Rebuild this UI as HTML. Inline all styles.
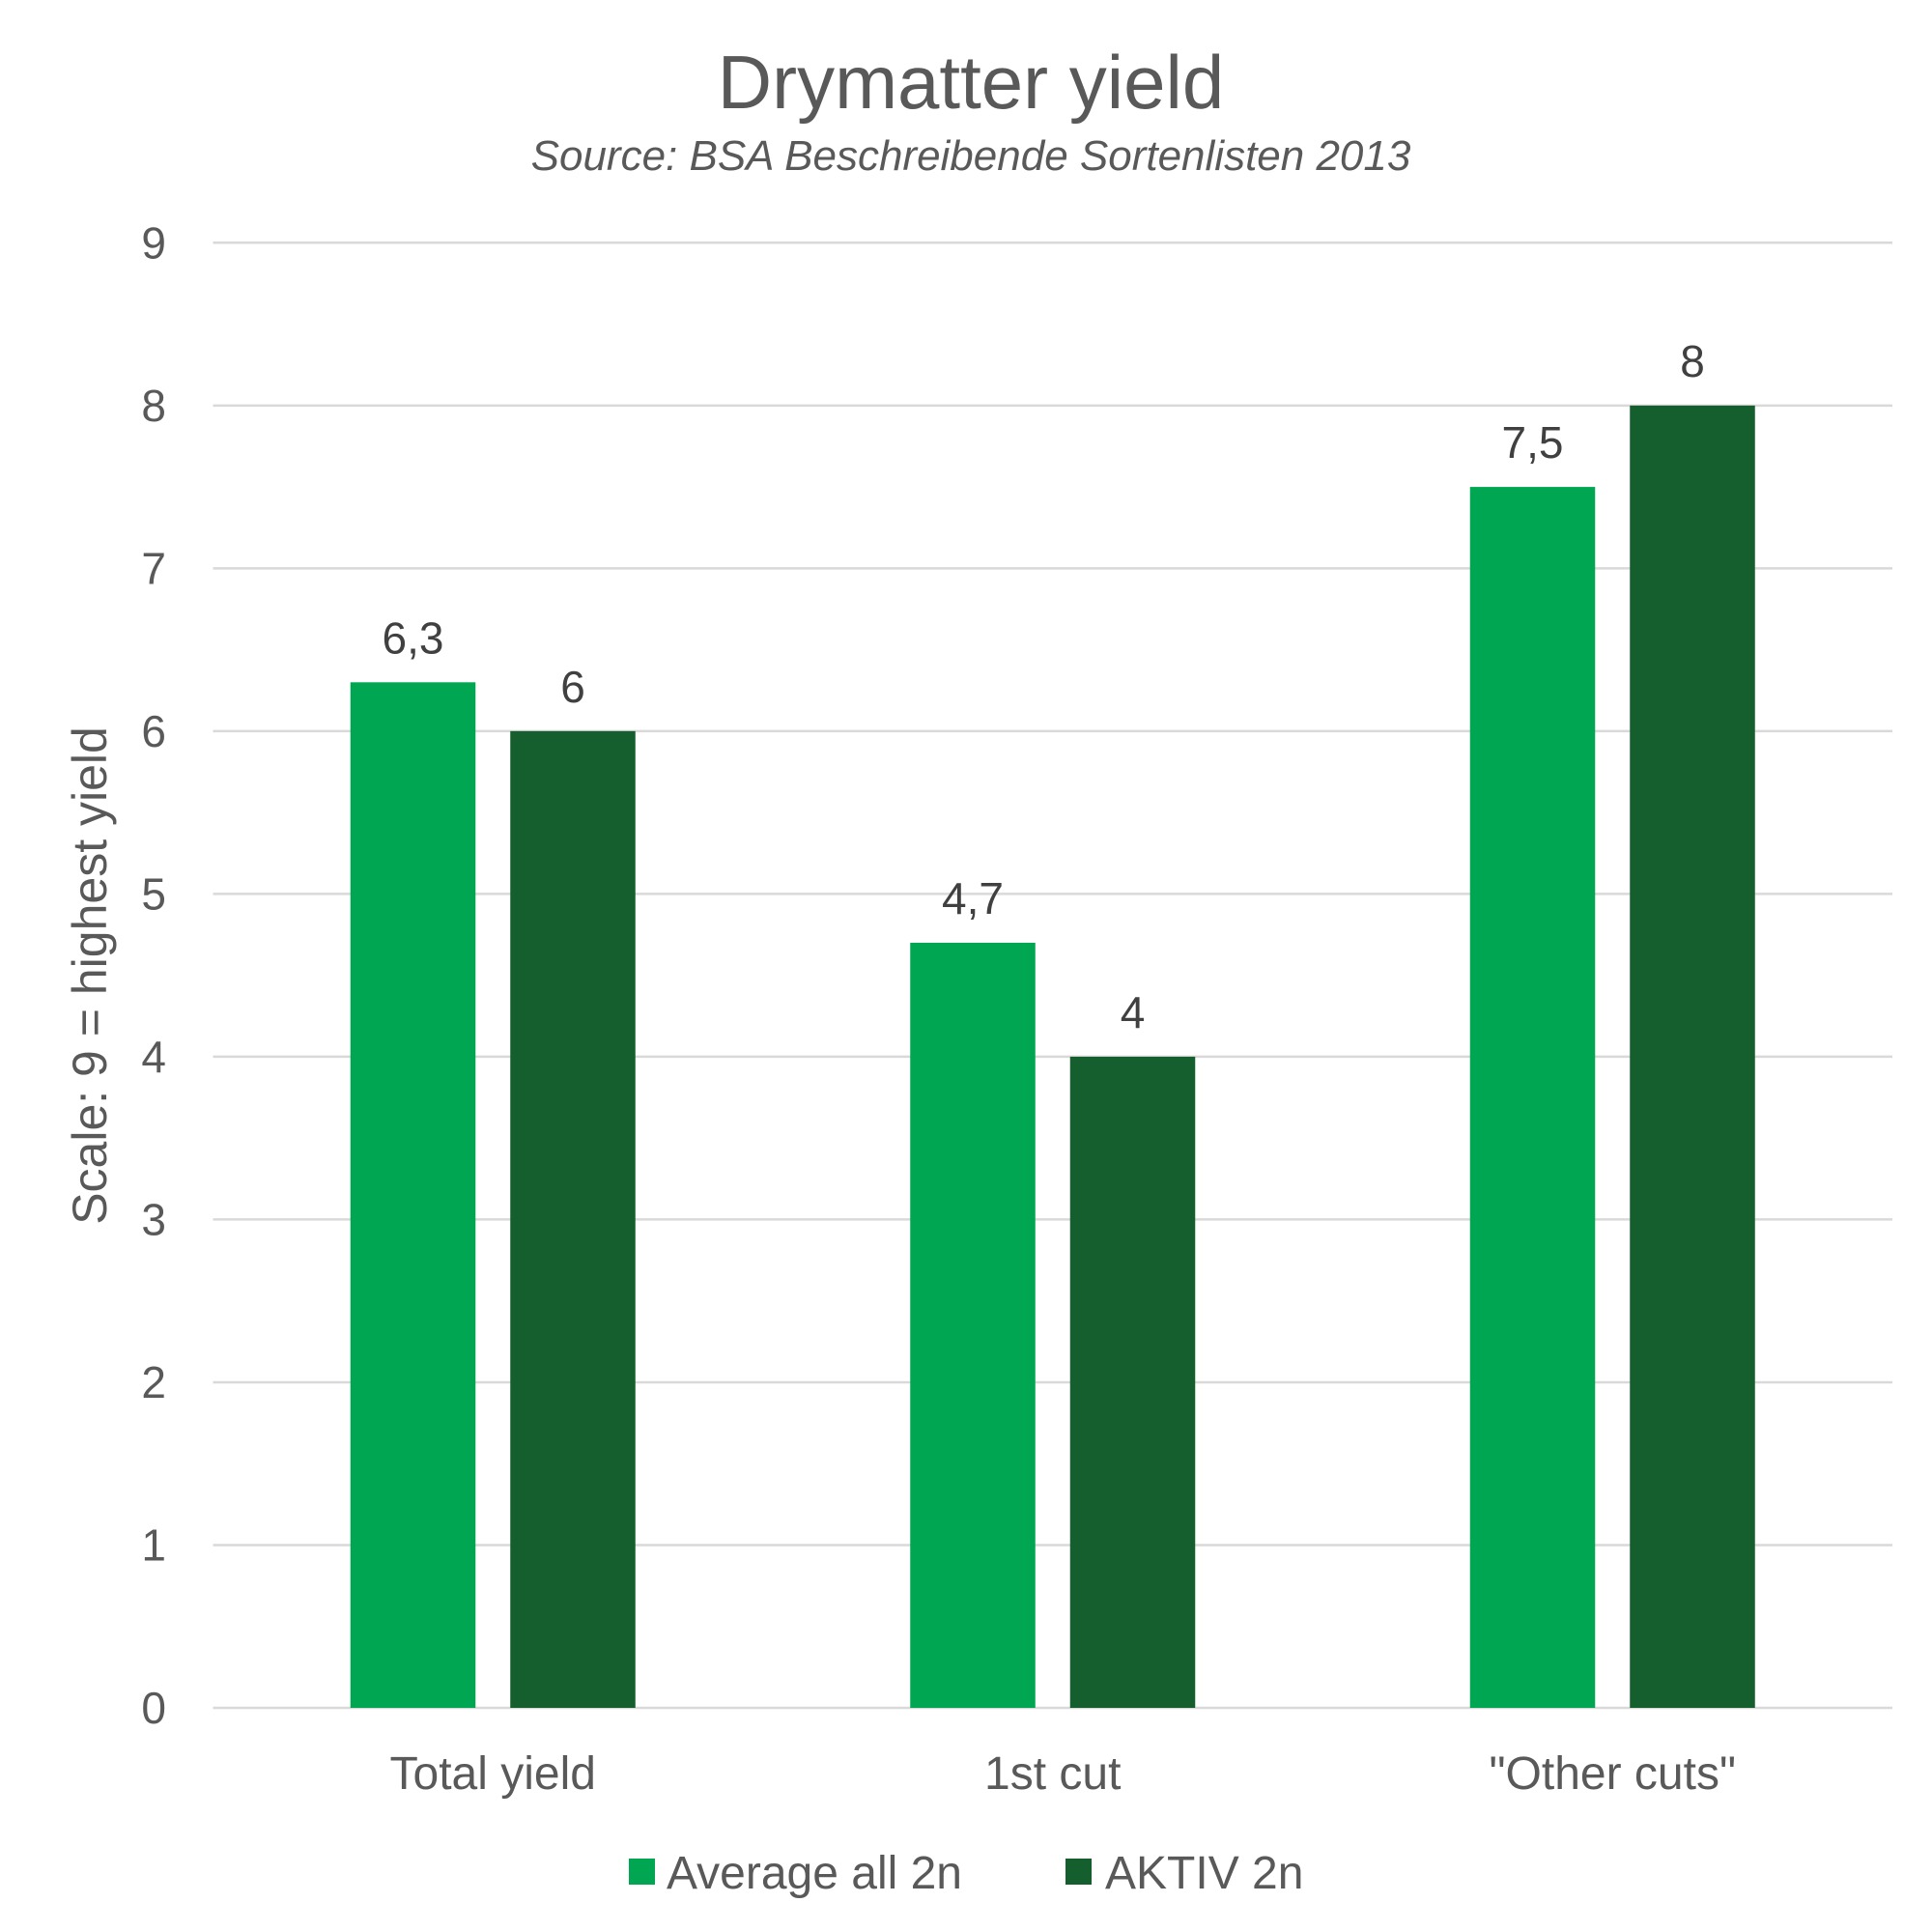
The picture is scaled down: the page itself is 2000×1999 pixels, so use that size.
<!DOCTYPE html>
<html><head><meta charset="utf-8"><style>
body{margin:0;background:#fff;}
svg{display:block;font-family:"Liberation Sans",Arial,sans-serif;}
</style></head><body>
<svg id="chart" width="2000" height="1999" viewBox="0 0 2000 1999" xmlns="http://www.w3.org/2000/svg">
<rect width="2000" height="1999" fill="#fff"/>
<text x="1005" y="112" text-anchor="middle" font-size="78" fill="#595959">Drymatter yield</text>
<text x="1005" y="176" text-anchor="middle" font-size="44" font-style="italic" fill="#595959">Source: BSA Beschreibende Sortenlisten 2013</text>
<g id="grid"></g><g id="bars"></g><g id="labels"></g>
<text transform="translate(110,1010) rotate(-90)" text-anchor="middle" font-size="50" fill="#595959">Scale: 9 = highest yield</text>
<g>
<rect x="651" y="1924" width="27" height="27" fill="#00A651"/>
<text x="690" y="1955" font-size="48" fill="#595959">Average all 2n</text>
<rect x="1103" y="1924" width="27" height="27" fill="#155F2E"/>
<text x="1144" y="1955" font-size="48" fill="#595959">AKTIV 2n</text>
</g>
</svg>
<script>
const categories=["Total yield","1st cut","\"Other cuts\""];
const averageValues=[6.3,4.7,7.5];
const aktivValues=[6,4,8];
const averageLabels=["6,3","4,7","7,5"];
const aktivLabels=["6","4","8"];
const tickLabels=["0","1","2","3","4","5","6","7","8","9"];
const NS="http://www.w3.org/2000/svg";
const L=220.5,R=1959,Y0=1768,Y9=251.3,yMax=9;
const y=v=>Y0-(Y0-Y9)*v/yMax;
const gw=(R-L)/categories.length;
const bw=129.5,gap=36;
function mk(tag,attrs,parent){const e=document.createElementNS(NS,tag);for(const k in attrs)e.setAttribute(k,attrs[k]);parent.appendChild(e);return e;}
const grid=document.getElementById('grid'),bars=document.getElementById('bars'),labels=document.getElementById('labels');
tickLabels.forEach((t,i)=>{
 const v=+t;
 const ln=mk('line',{x1:L,x2:R,y1:y(v),y2:y(v),stroke:'#d9d9d9','stroke-width':2.5},grid);
 
 
 const tx=mk('text',{x:172,y:y(v)+16,'text-anchor':'end','font-size':46,fill:'#595959'},grid);
 tx.textContent=t;
 
 
});
categories.forEach((c,i)=>{
 const cx=L+gw*(i+0.5);
 const series=[[averageValues[i],averageLabels[i],'#00A651',cx-gap/2-bw,'average'],[aktivValues[i],aktivLabels[i],'#155F2E',cx+gap/2,'aktiv']];
 series.forEach(s=>{
  const r=mk('rect',{x:s[3],y:y(s[0]),width:bw,height:Y0-y(s[0]),fill:s[2]},bars);
  
  
  const t=mk('text',{x:s[3]+bw/2,y:y(s[0])-30,'text-anchor':'middle','font-size':46,fill:'#404040'},labels);
  t.textContent=s[1];
  
  
 });
 const ct=mk('text',{x:cx,y:1852,'text-anchor':'middle','font-size':48,fill:'#595959'},labels);
 ct.textContent=c;
 
 
});
</script>
</body></html>
